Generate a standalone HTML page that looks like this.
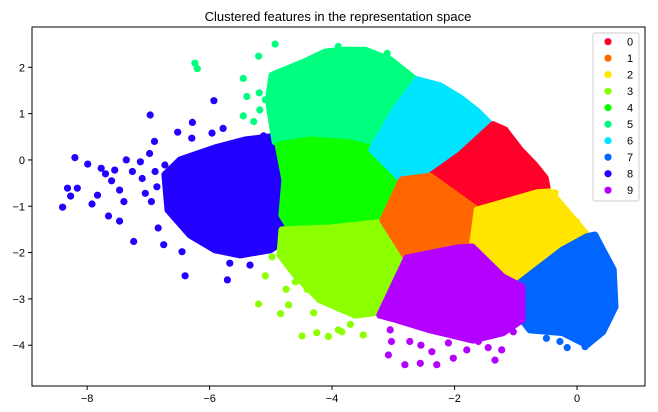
<!DOCTYPE html>
<html><head><meta charset="utf-8"><style>
html,body{margin:0;padding:0;background:#fff;}
svg{display:block;font-family:"Liberation Sans","DejaVu Sans",sans-serif;}
</style></head><body>
<svg id="chart" width="658" height="412">
<text x="338" y="21" text-anchor="middle" font-size="13" fill="#000">Clustered features in the representation space</text>
<g id="marks"></g>
<rect x="32" y="27" width="613" height="359" fill="none" stroke="#000" stroke-width="1"/>
<g id="axes"></g>
<g id="legend"></g>
</svg>
<script>
const labels=["0","1","2","3","4","5","6","7","8","9"];
const colors=["#ff0029","#ff6600","#ffe500","#8cff00","#0dff00","#00ff7f","#00e5ff","#0066ff","#2200ff","#b300ff"];
const xTicks=[-8,-6,-4,-2,0];
const yTicks=[2,1,0,-1,-2,-3,-4];
// dense-core outlines (data coordinates)
const hull8=[[-6.73,-0.32],[-6.48,0],[-5.91,0.26],[-5.42,0.43],[-5.01,0.5],[-4.85,0.43],[-4.72,-0.22],[-4.69,-0.97],[-4.77,-1.73],[-5.01,-1.94],[-5.5,-2.05],[-5.91,-1.94],[-6.32,-1.62],[-6.68,-1.08]];
const hull5=[[-4.93,0.39],[-5.04,1.3],[-4.98,1.83],[-4.44,2.12],[-4.11,2.33],[-3.79,2.37],[-3.46,2.37],[-3.05,2.16],[-2.64,1.73],[-2.97,1.08],[-3.33,0.26],[-4.03,0.32],[-4.69,0.39]];
const hull4=[[-4.88,0.32],[-4.36,0.43],[-3.71,0.37],[-3.3,0.22],[-2.86,-0.43],[-3.13,-1.19],[-3.38,-1.34],[-4.03,-1.42],[-4.69,-1.47],[-4.82,-1.19],[-4.77,-0.43]];
const hull3=[[-4.82,-1.51],[-4.03,-1.47],[-3.13,-1.34],[-2.89,-1.73],[-2.78,-2.12],[-2.94,-2.7],[-3.22,-3.28],[-3.62,-3.35],[-4.2,-3.02],[-4.6,-2.48],[-4.85,-2.05]];
const hull6=[[-2.61,1.73],[-2.24,1.6],[-1.91,1.34],[-1.62,1.04],[-1.37,0.71],[-1.91,0.11],[-2.4,-0.32],[-2.86,-0.43],[-3.35,0.22],[-2.97,1.08]];
const hull0=[[-1.37,0.76],[-1.18,0.65],[-0.93,0.22],[-0.69,-0.11],[-0.52,-0.39],[-0.49,-0.6],[-0.65,-0.71],[-1.26,-0.86],[-1.63,-1.08],[-1.99,-0.76],[-2.4,-0.35],[-1.91,0.11]];
const hull1=[[-2.86,-0.43],[-2.4,-0.35],[-1.63,-1.08],[-1.71,-1.88],[-1.96,-1.9],[-2.78,-2.12],[-3.17,-1.3]];
const hull2=[[-1.63,-1.08],[-0.65,-0.71],[-0.44,-0.69],[0.16,-1.62],[-0.23,-1.94],[-0.93,-2.65],[-1.21,-2.53],[-1.71,-1.88]];
const hull7=[[-0.93,-2.65],[-0.23,-1.94],[0.16,-1.66],[0.29,-1.62],[0.59,-2.37],[0.62,-3.17],[0.42,-3.71],[0.16,-3.99],[-0.23,-3.73],[-0.77,-3.67],[-0.93,-3.39]];
const hull9=[[-2.78,-2.12],[-1.96,-1.9],[-1.71,-1.88],[-1.21,-2.53],[-0.9,-2.74],[-0.9,-3.45],[-1.21,-3.73],[-1.7,-3.89],[-2.4,-3.67],[-2.94,-3.45],[-3.22,-3.35],[-2.97,-2.65]];
// scattered individual points
const pts8=[[-8.4,-1.02],[-8.2,0.05],[-8.32,-0.61],[-8.16,-0.61],[-8.27,-0.78],[-7.99,-0.09],[-7.92,-0.95],[-7.83,-0.76],[-7.77,-0.18],[-7.65,-1.21],[-7.55,-0.22],[-7.47,-1.32],[-7.36,0],[-7.24,-1.76],[-7.26,-0.25],[-7.13,-0.04],[-6.97,0.97],[-6.98,0.14],[-6.89,-0.25],[-6.86,-0.58],[-6.84,-1.47],[-6.75,-1.83],[-6.73,-0.11],[-6.52,0.6],[-6.45,-1.98],[-6.4,-2.5],[-6.28,0.81],[-6.29,0.47],[-5.96,0.58],[-5.93,1.28],[-5.78,0.68],[-5.71,-2.59],[-5.67,-2.23],[-5.34,-2.27],[-5.12,0.52],[-7.05,-0.72],[-7.47,-0.65],[-7.6,-0.45],[-7.1,-0.4],[-6.95,-0.9],[-7.4,-0.9],[-6.6,-0.6],[-6.9,0.4],[-7.7,-0.3]];
const pts5=[[-6.24,2.09],[-6.2,1.97],[-5.45,1.76],[-5.39,1.37],[-5.45,0.95],[-5.2,2.24],[-4.93,2.5],[-5.19,1.45],[-5.18,1.08],[-5.28,0.83],[-5.09,1.3],[-5.01,1.12],[-3.1,2.3],[-3.9,2.45]];
const pts3=[[-5.09,-2.5],[-5.2,-3.11],[-4.84,-3.32],[-4.75,-2.79],[-4.6,-2.63],[-4.71,-3.13],[-4.49,-3.8],[-4.25,-3.73],[-4.06,-3.81],[-4.41,-2.79],[-3.9,-3.67],[-3.84,-3.71],[-3.49,-3.78],[-4.98,-2.09],[-4.3,-3.3],[-3.7,-3.55]];
const pts2=[[-0.36,-0.71],[-0.2,-1.12],[-0.01,-1.33]];
const pts7=[[-0.28,-3.92],[-0.16,-4.05],[0.13,-4.03],[0.28,-1.64],[-0.5,-3.85]];
const pts9=[[-3.08,-4.21],[-2.81,-4.42],[-2.56,-4.39],[-2.29,-4.42],[-3.03,-3.92],[-2.73,-3.92],[-2.37,-4.14],[-2.02,-4.28],[-1.8,-4.1],[-1.61,-3.92],[-1.34,-4.32],[-1.23,-4.1],[-1.04,-3.71],[-3.05,-3.67],[-2.55,-4.0],[-2.1,-3.95],[-1.45,-4.05]];
const hulls=[hull0,hull1,hull2,hull3,hull4,hull5,hull6,hull7,hull8,hull9];
const points=[[],[],pts2,pts3,[],pts5,[],pts7,pts8,pts9];
const NS="http://www.w3.org/2000/svg";
const X0=32,X1=645,Y0=27,Y1=386;
const xmin=-8.9,xmax=1.11,ymin=-4.88,ymax=2.87;
function sx(v){return X0+(v-xmin)/(xmax-xmin)*(X1-X0);}
function sy(v){return Y1-(v-ymin)/(ymax-ymin)*(Y1-Y0);}
const marks=document.getElementById('marks');
const order=[8,5,4,3,6,0,1,2,7,9];
order.forEach(k=>{
  const g=document.createElementNS(NS,'g');
  
  
  const p=document.createElementNS(NS,'polygon');
  p.setAttribute('points',hulls[k].map(d=>sx(d[0]).toFixed(1)+','+sy(d[1]).toFixed(1)).join(' '));
  p.setAttribute('fill',colors[k]);p.setAttribute('stroke',colors[k]);
  p.setAttribute('stroke-width','7');p.setAttribute('stroke-linejoin','round');
  
  
  g.appendChild(p);
  points[k].forEach(d=>{
    const c=document.createElementNS(NS,'circle');
    c.setAttribute('cx',sx(d[0]).toFixed(1));c.setAttribute('cy',sy(d[1]).toFixed(1));
    c.setAttribute('r','3.6');c.setAttribute('fill',colors[k]);
    
    
    g.appendChild(c);
  });
  marks.appendChild(g);
});
const axes=document.getElementById('axes');
xTicks.forEach(t=>{
  const x=sx(t);
  const l=document.createElementNS(NS,'line');
  l.setAttribute('x1',x);l.setAttribute('x2',x);l.setAttribute('y1',Y1);l.setAttribute('y2',Y1+4);l.setAttribute('stroke','#000');
  
  
  axes.appendChild(l);
  const tx=document.createElementNS(NS,'text');
  tx.setAttribute('x',x);tx.setAttribute('y',Y1+16);tx.setAttribute('text-anchor','middle');tx.setAttribute('font-size','11');
  tx.textContent=(t<0?'\u2212'+Math.abs(t):String(t));
  
  
  axes.appendChild(tx);
});
yTicks.forEach(t=>{
  const y=sy(t);
  const l=document.createElementNS(NS,'line');
  l.setAttribute('x1',X0-4);l.setAttribute('x2',X0);l.setAttribute('y1',y);l.setAttribute('y2',y);l.setAttribute('stroke','#000');
  
  
  axes.appendChild(l);
  const tx=document.createElementNS(NS,'text');
  tx.setAttribute('x',X0-7);tx.setAttribute('y',y+4);tx.setAttribute('text-anchor','end');tx.setAttribute('font-size','11');
  tx.textContent=(t<0?'\u2212'+Math.abs(t):String(t));
  
  
  axes.appendChild(tx);
});
const lg=document.getElementById('legend');
const box=document.createElementNS(NS,'rect');
box.setAttribute('x',593);box.setAttribute('y',33);box.setAttribute('width',46);box.setAttribute('height',168);
box.setAttribute('rx',2);box.setAttribute('fill','#fff');box.setAttribute('fill-opacity','0.85');box.setAttribute('stroke','#ccc');


lg.appendChild(box);
labels.forEach((lab,i)=>{
  const y=41.7+i*16.5;
  const c=document.createElementNS(NS,'circle');
  c.setAttribute('cx',608);c.setAttribute('cy',y);c.setAttribute('r',3.6);c.setAttribute('fill',colors[i]);
  
  
  lg.appendChild(c);
  const t=document.createElementNS(NS,'text');
  t.setAttribute('x',627);t.setAttribute('y',y+4);t.setAttribute('font-size','11');t.textContent=lab;
  
  
  lg.appendChild(t);
});
</script>
</body></html>
